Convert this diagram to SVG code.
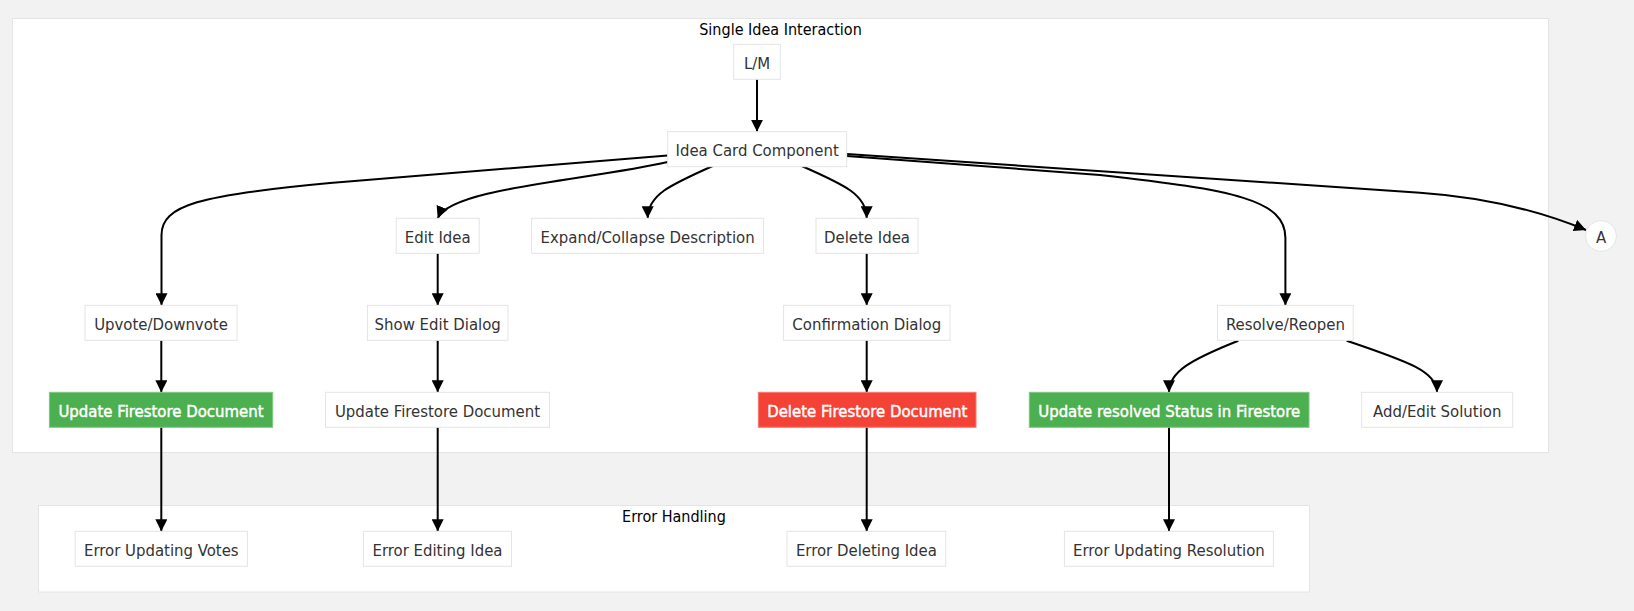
<svg xmlns="http://www.w3.org/2000/svg" width="1634" height="611" viewBox="0 0 1634 611">
<defs>
<marker id="arr" viewBox="0 0 10 10" refX="10" refY="5" markerUnits="userSpaceOnUse" markerWidth="12" markerHeight="12" orient="auto">
<path d="M0 0 L10 5 L0 10 z" fill="#000"/>
</marker>
<style>
.cl{fill:#fff;stroke:#e4e4e4;stroke-width:1}
.ct{font-family:'DejaVu Sans','Liberation Sans',sans-serif;font-stretch:condensed;font-size:16px;fill:#000;text-anchor:middle;dominant-baseline:central}
.n rect,.n circle{fill:#fff;stroke:#e4e4e4;stroke-width:1}
.n text{font-family:'DejaVu Sans','Liberation Sans',sans-serif;font-stretch:condensed;font-size:16.6px;fill:#333;text-anchor:middle;dominant-baseline:central}
.g rect{fill:#4caf50;stroke:#7fc783}
.r rect{fill:#f44336;stroke:#f77b72}
.g text,.r text{fill:#fff;stroke:#fff;stroke-width:0.45px}
.e path{fill:none;stroke:#000;stroke-width:2;marker-end:url(#arr)}
</style>
</defs>
<rect width="1634" height="611" fill="#f2f2f2"/>
<g id="cluster-single">
<rect class="cl" x="12.5" y="18.5" width="1536" height="434"/>
<text class="ct" x="780.5" y="29.5">Single Idea Interaction</text>
</g>
<g id="cluster-error">
<rect class="cl" x="38.5" y="505.5" width="1271" height="86.5"/>
<text class="ct" x="674" y="516.5">Error Handling</text>
</g>
<g class="e" id="connectors">
<path d="M757 79.3 L757 131.7"/>
<path d="M667.6 155.5 L330 183 C200 195 161.5 205 161.5 235 L161.5 305.3"/>
<path d="M667.6 162 C590 180 450 188 437.7 218.3"/>
<path d="M712.7 166 C670 185 647.7 195 647.7 218.3"/>
<path d="M801.7 166 C845 185 866.7 195 866.7 218.3"/>
<path d="M846.8 156 L1100 175 C1235 190 1285.4 200 1285.4 238 L1285.4 305.3"/>
<path d="M846.8 154 L1420 192.7 Q1510 198.8 1586 230"/>
<path d="M161.3 340.3 L161.3 392.3"/>
<path d="M437.7 253.3 L437.7 305.3"/>
<path d="M437.7 340.3 L437.7 392.3"/>
<path d="M866.7 253.3 L866.7 305.3"/>
<path d="M866.7 340.3 L866.7 392.3"/>
<path d="M1238.3 340.7 C1190 360 1169 372 1169 392.3"/>
<path d="M1346.7 340.7 C1410 362 1437 372 1437 392.3"/>
<path d="M161.3 427.3 L161.3 531.3"/>
<path d="M437.7 427.3 L437.7 531.3"/>
<path d="M866.7 427.3 L866.7 531.3"/>
<path d="M1169 427.3 L1169 531.3"/>
</g>
<g class="n" id="lm"><rect x="733.7" y="44.3" width="46.6" height="35"/><text x="757" y="63.5">L/M</text></g>
<g class="n" id="card"><rect x="667.7" y="131.7" width="179" height="35"/><text x="757.2" y="150.9">Idea Card Component</text></g>
<g class="n" id="vote"><rect x="85" y="305.3" width="152" height="35"/><text x="161" y="324.5">Upvote/Downvote</text></g>
<g class="n" id="edit"><rect x="396.2" y="218.3" width="83" height="35"/><text x="437.7" y="237.5">Edit Idea</text></g>
<g class="n" id="expand"><rect x="531.6" y="218.3" width="232" height="35"/><text x="647.6" y="237.5">Expand/Collapse Description</text></g>
<g class="n" id="delete"><rect x="816" y="218.3" width="102" height="35"/><text x="867" y="237.5">Delete Idea</text></g>
<g class="n" id="a"><circle cx="1601" cy="236" r="15.5"/><text x="1601" y="237.5">A</text></g>
<g class="n" id="showedit"><rect x="367.4" y="305.3" width="140.6" height="35"/><text x="437.7" y="324.5">Show Edit Dialog</text></g>
<g class="n" id="confirm"><rect x="783.6" y="305.3" width="166.4" height="35"/><text x="866.8" y="324.5">Confirmation Dialog</text></g>
<g class="n" id="resolve"><rect x="1217.5" y="305.3" width="135.7" height="35"/><text x="1285.4" y="324.5">Resolve/Reopen</text></g>
<g class="n g" id="updvote"><rect x="49.4" y="392.3" width="223.3" height="35"/><text x="161" y="411.5">Update Firestore Document</text></g>
<g class="n" id="updedit"><rect x="325.5" y="392.3" width="224" height="35"/><text x="437.5" y="411.5">Update Firestore Document</text></g>
<g class="n r" id="deldoc"><rect x="758.3" y="392.3" width="217.7" height="35"/><text x="867.2" y="411.5">Delete Firestore Document</text></g>
<g class="n g" id="updres"><rect x="1029.3" y="392.3" width="279.7" height="35"/><text x="1169.2" y="411.5">Update resolved Status in Firestore</text></g>
<g class="n" id="solution"><rect x="1361.7" y="392.3" width="151" height="35"/><text x="1437.2" y="411.5">Add/Edit Solution</text></g>
<g class="n" id="errvote"><rect x="75.2" y="531.3" width="172.2" height="35"/><text x="161.3" y="550.5">Error Updating Votes</text></g>
<g class="n" id="erredit"><rect x="363.4" y="531.3" width="148.1" height="35"/><text x="437.5" y="550.5">Error Editing Idea</text></g>
<g class="n" id="errdel"><rect x="787" y="531.3" width="158.7" height="35"/><text x="866.4" y="550.5">Error Deleting Idea</text></g>
<g class="n" id="errres"><rect x="1064.4" y="531.3" width="209" height="35"/><text x="1168.9" y="550.5">Error Updating Resolution</text></g>
</svg>
